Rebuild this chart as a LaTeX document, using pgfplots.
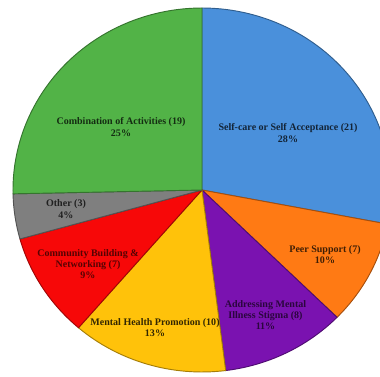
\documentclass[border=0pt]{standalone}
\usepackage{pgfplots}
\usepackage{pgfplotstable}
\pgfplotsset{compat=1.18}
\usepackage{fontspec}
\setmainfont{Liberation Serif}
\definecolor{c0}{HTML}{4A90DB}
\definecolor{c1}{HTML}{FF7A14}
\definecolor{c2}{HTML}{7A12B0}
\definecolor{c3}{HTML}{FFC20A}
\definecolor{c4}{HTML}{F70808}
\definecolor{c5}{HTML}{7F7F7F}
\definecolor{c6}{HTML}{52B347}
\pgfplotstableread{
count
21
7
8
10
7
3
19
}\piedata
% angles computed from the table
\def\total{0}%
\pgfplotsforeachungrouped \i in {0,...,6}{%
  \pgfplotstablegetelem{\i}{count}\of\piedata
  \pgfmathsetmacro\total{\total+\pgfplotsretval}%
}%
\def\cum{0}%
\pgfplotsforeachungrouped \i in {0,...,6}{%
  \pgfplotstablegetelem{\i}{count}\of\piedata
  \let\val\pgfplotsretval
  \pgfmathsetmacro\sang{90-\cum/\total*360}%
  \pgfmathsetmacro\cum{\cum+\val}%
  \pgfmathsetmacro\eang{90-\cum/\total*360}%
  \expandafter\xdef\csname sA\i\endcsname{\sang}%
  \expandafter\xdef\csname eA\i\endcsname{\eang}%
}%
\begin{document}
\begin{tikzpicture}
\begin{axis}[
  scale only axis,
  width=10cm, height=9.8947cm,
  xmin=0, xmax=380, ymin=0, ymax=376,
  hide axis, clip=true,
]
\pgfplotsinvokeforeach{0,...,6}{%
  \edef\tmp{\noexpand\filldraw[fill=c#1, draw=c#1!65!black, line width=0.7pt, line join=round]
    (axis cs:202,186) -- ++(\csname sA#1\endcsname:4.974cm and 4.789cm)
    arc[start angle=\csname sA#1\endcsname, end angle=\csname eA#1\endcsname, x radius=4.974cm, y radius=4.789cm] -- cycle;}%
  \tmp
}
\tikzset{lbl/.style={font=\bfseries\fontsize{7.5}{8.4}\selectfont, align=center, inner sep=0pt}}
\node[lbl, text=c0!25!black] at (axis cs:288,243) {Self-care or Self Acceptance (21)\\28\%};
\node[lbl, text=c6!25!black] at (axis cs:121,249) {Combination of Activities (19)\\25\%};
\node[lbl, text=c5!25!black] at (axis cs:66,167) {Other (3)\\4\%};
\node[lbl, text=c4!35!black] at (axis cs:88,112) {Community Building \&\\Networking (7)\\9\%};
\node[lbl, text=c3!20!black] at (axis cs:155,48.5) {Mental Health Promotion (10)\\13\%};
\node[lbl, text=c1!25!black] at (axis cs:325,121.5) {Peer Support (7)\\10\%};
\node[lbl, text=c2!35!black] at (axis cs:265.5,61) {Addressing Mental\\Illness Stigma (8)\\11\%};
\end{axis}
\pgfresetboundingbox
\useasboundingbox (current axis.south west) rectangle (current axis.north east);
\end{tikzpicture}
\end{document}
